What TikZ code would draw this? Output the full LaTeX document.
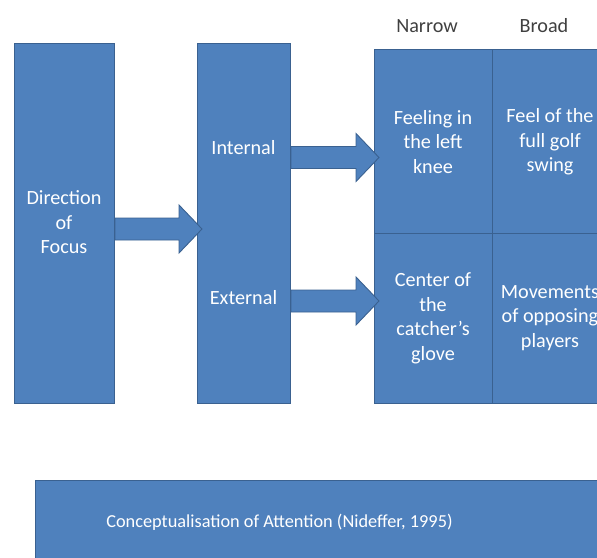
\documentclass[tikz,border=0pt]{standalone}
\usepackage{fontspec}
\setmainfont{Carlito}
\usetikzlibrary{calc}
\definecolor{boxfill}{HTML}{4F81BD}
\definecolor{boxline}{HTML}{3A6190}
\definecolor{labelgray}{HTML}{404040}
\tikzset{
  bluebox/.style={draw=boxline, fill=boxfill, line width=1pt, rectangle, inner sep=0pt,
    anchor=north west, text=white, align=center},
  whitetext/.style={text=white, inner sep=0pt, align=center,
    font=\fontsize{20.2}{24.5}\selectfont},
  headtext/.style={text=labelgray, inner sep=0pt,
    font=\fontsize{20.2}{24.5}\selectfont},
  fatarrow/.style={draw=boxline, fill=boxfill, line width=0.9pt, line join=miter,
    to path={([yshift=11pt]\tikztostart) -- ([xshift=-23pt,yshift=11pt]\tikztotarget)
      -- ([xshift=-23pt,yshift=24pt]\tikztotarget) -- (\tikztotarget)
      -- ([xshift=-23pt,yshift=-24pt]\tikztotarget) -- ([xshift=-23pt,yshift=-11pt]\tikztotarget)
      -- ([yshift=-11pt]\tikztostart) -- cycle}}
}
\begin{document}
\begin{tikzpicture}[x=1pt,y=-1pt]
\useasboundingbox (0,0) rectangle (597,557);
\clip (0,0) rectangle (597,557);

% main boxes
\node[bluebox, minimum width=100pt, minimum height=360pt] (focus) at (14,43) {};
\node[whitetext] (focustext) at (64,222.5) {Direction\\of\\Focus};
\node[bluebox, minimum width=93pt, minimum height=360pt] (dir) at (197,43) {};
\node[whitetext] (internal) at (243.5,148) {Internal};
\node[whitetext] (external) at (243.5,298) {External};

% grid
\node[bluebox, minimum width=118pt, minimum height=184pt] (c11) at (374,49) {};
\node[bluebox, minimum width=118pt, minimum height=184pt] (c12) at (492,49) {};
\node[bluebox, minimum width=118pt, minimum height=170pt] (c21) at (374,233) {};
\node[bluebox, minimum width=118pt, minimum height=170pt] (c22) at (492,233) {};
\node[whitetext] (t11) at (433,142) {Feeling in\\the left\\knee};
\node[whitetext] (t12) at (550,142) {Feel of the\\full golf\\swing};
\node[whitetext] (t21) at (433,318.5) {Center of\\the\\catcher’s\\glove};
\node[whitetext] (t22) at (550,318) {Movements\\of opposing\\players};

% column headings
\node[headtext] (narrow) at (427,26) {Narrow};
\node[headtext] (broad) at (544,26) {Broad};

% bottom box
\node[bluebox, minimum width=580pt, minimum height=84pt] (concept) at (35,480) {};
\node[whitetext, font=\fontsize{18.3}{22}\selectfont] (concepttext) at (279.5,522) {Conceptualisation of Attention (Nideffer, 1995)};

% arrows
\coordinate (tip1) at (202,229);
\coordinate (tip2) at (379,157.5);
\coordinate (tip3) at (379,301);
\path[fatarrow] (focus.east |- tip1) to (tip1);
\path[fatarrow] (dir.east |- tip2) to (tip2);
\path[fatarrow] (dir.east |- tip3) to (tip3);
\end{tikzpicture}
\end{document}
